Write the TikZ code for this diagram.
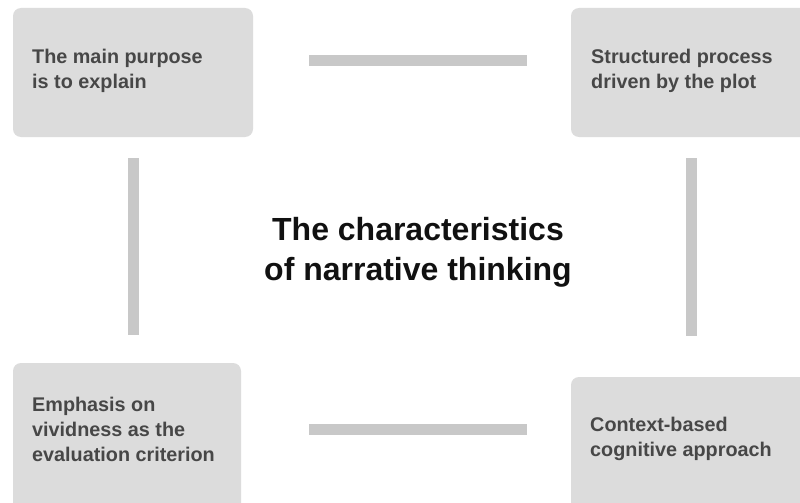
\documentclass[tikz,border=0pt]{standalone}
\usepackage{fontspec}
\setmainfont{Liberation Sans}
\definecolor{boxgray}{HTML}{DCDCDC}
\definecolor{bargray}{HTML}{C8C8C8}
\definecolor{boxtext}{HTML}{474747}
\definecolor{titletext}{HTML}{111111}
\begin{document}
\begin{tikzpicture}[x=1pt,y=-1pt,
  cardbox/.style={draw=none,fill=boxgray,rounded corners=8pt,inner sep=0pt,rectangle},
  cardtext/.style={anchor=north west,inner sep=0pt,align=left,text=boxtext,
    font=\fontsize{19.8}{25}\selectfont\bfseries},
  titlestyle/.style={anchor=north,inner sep=0pt,align=center,text=titletext,
    font=\fontsize{32}{40}\selectfont\bfseries},
  bar/.style={draw=bargray,line width=11pt,line cap=butt}]
\useasboundingbox (0,0) rectangle (800,503);
\clip (0,0) rectangle (800,503);
\fill[white] (0,0) rectangle (800,503);
% boxes
\node[cardbox,minimum width=240pt,minimum height=129pt] (tl) at (133,72.5) {};
\node[cardbox,minimum width=239pt,minimum height=129pt] (tr) at (690.5,72.5) {};
\node[cardbox,minimum width=228pt,minimum height=150pt] (bl) at (127,438) {};
\node[cardbox,minimum width=239pt,minimum height=136pt] (br) at (690.5,445) {};
% texts
\node[cardtext] (tltext) at (32,48.6) {The main purpose\\is to explain};
\node[cardtext] (trtext) at (591,48.6) {Structured process\\driven by the plot};
\node[cardtext] (bltext) at (32,397.3) {Emphasis on\\vividness as the\\evaluation criterion};
\node[cardtext] (brtext) at (590,417.3) {Context-based\\cognitive approach};
\node[titlestyle] (title) at (418,216.7) {The characteristics\\of narrative thinking};
% connector ends
\coordinate (topA) at (309,61);
\coordinate (topB) at (527,61);
\coordinate (botA) at (309,429);
\coordinate (botB) at (527,429);
\coordinate (leftA) at (133,158);
\coordinate (leftB) at (133,335);
\coordinate (rightA) at (691,158);
\coordinate (rightB) at (691,336);
\draw[bar] (topA) -- (topB);
\draw[bar] (botA) -- (botB);
\draw[bar] (leftA) -- (leftB);
\draw[bar] (rightA) -- (rightB);
\end{tikzpicture}
\end{document}
